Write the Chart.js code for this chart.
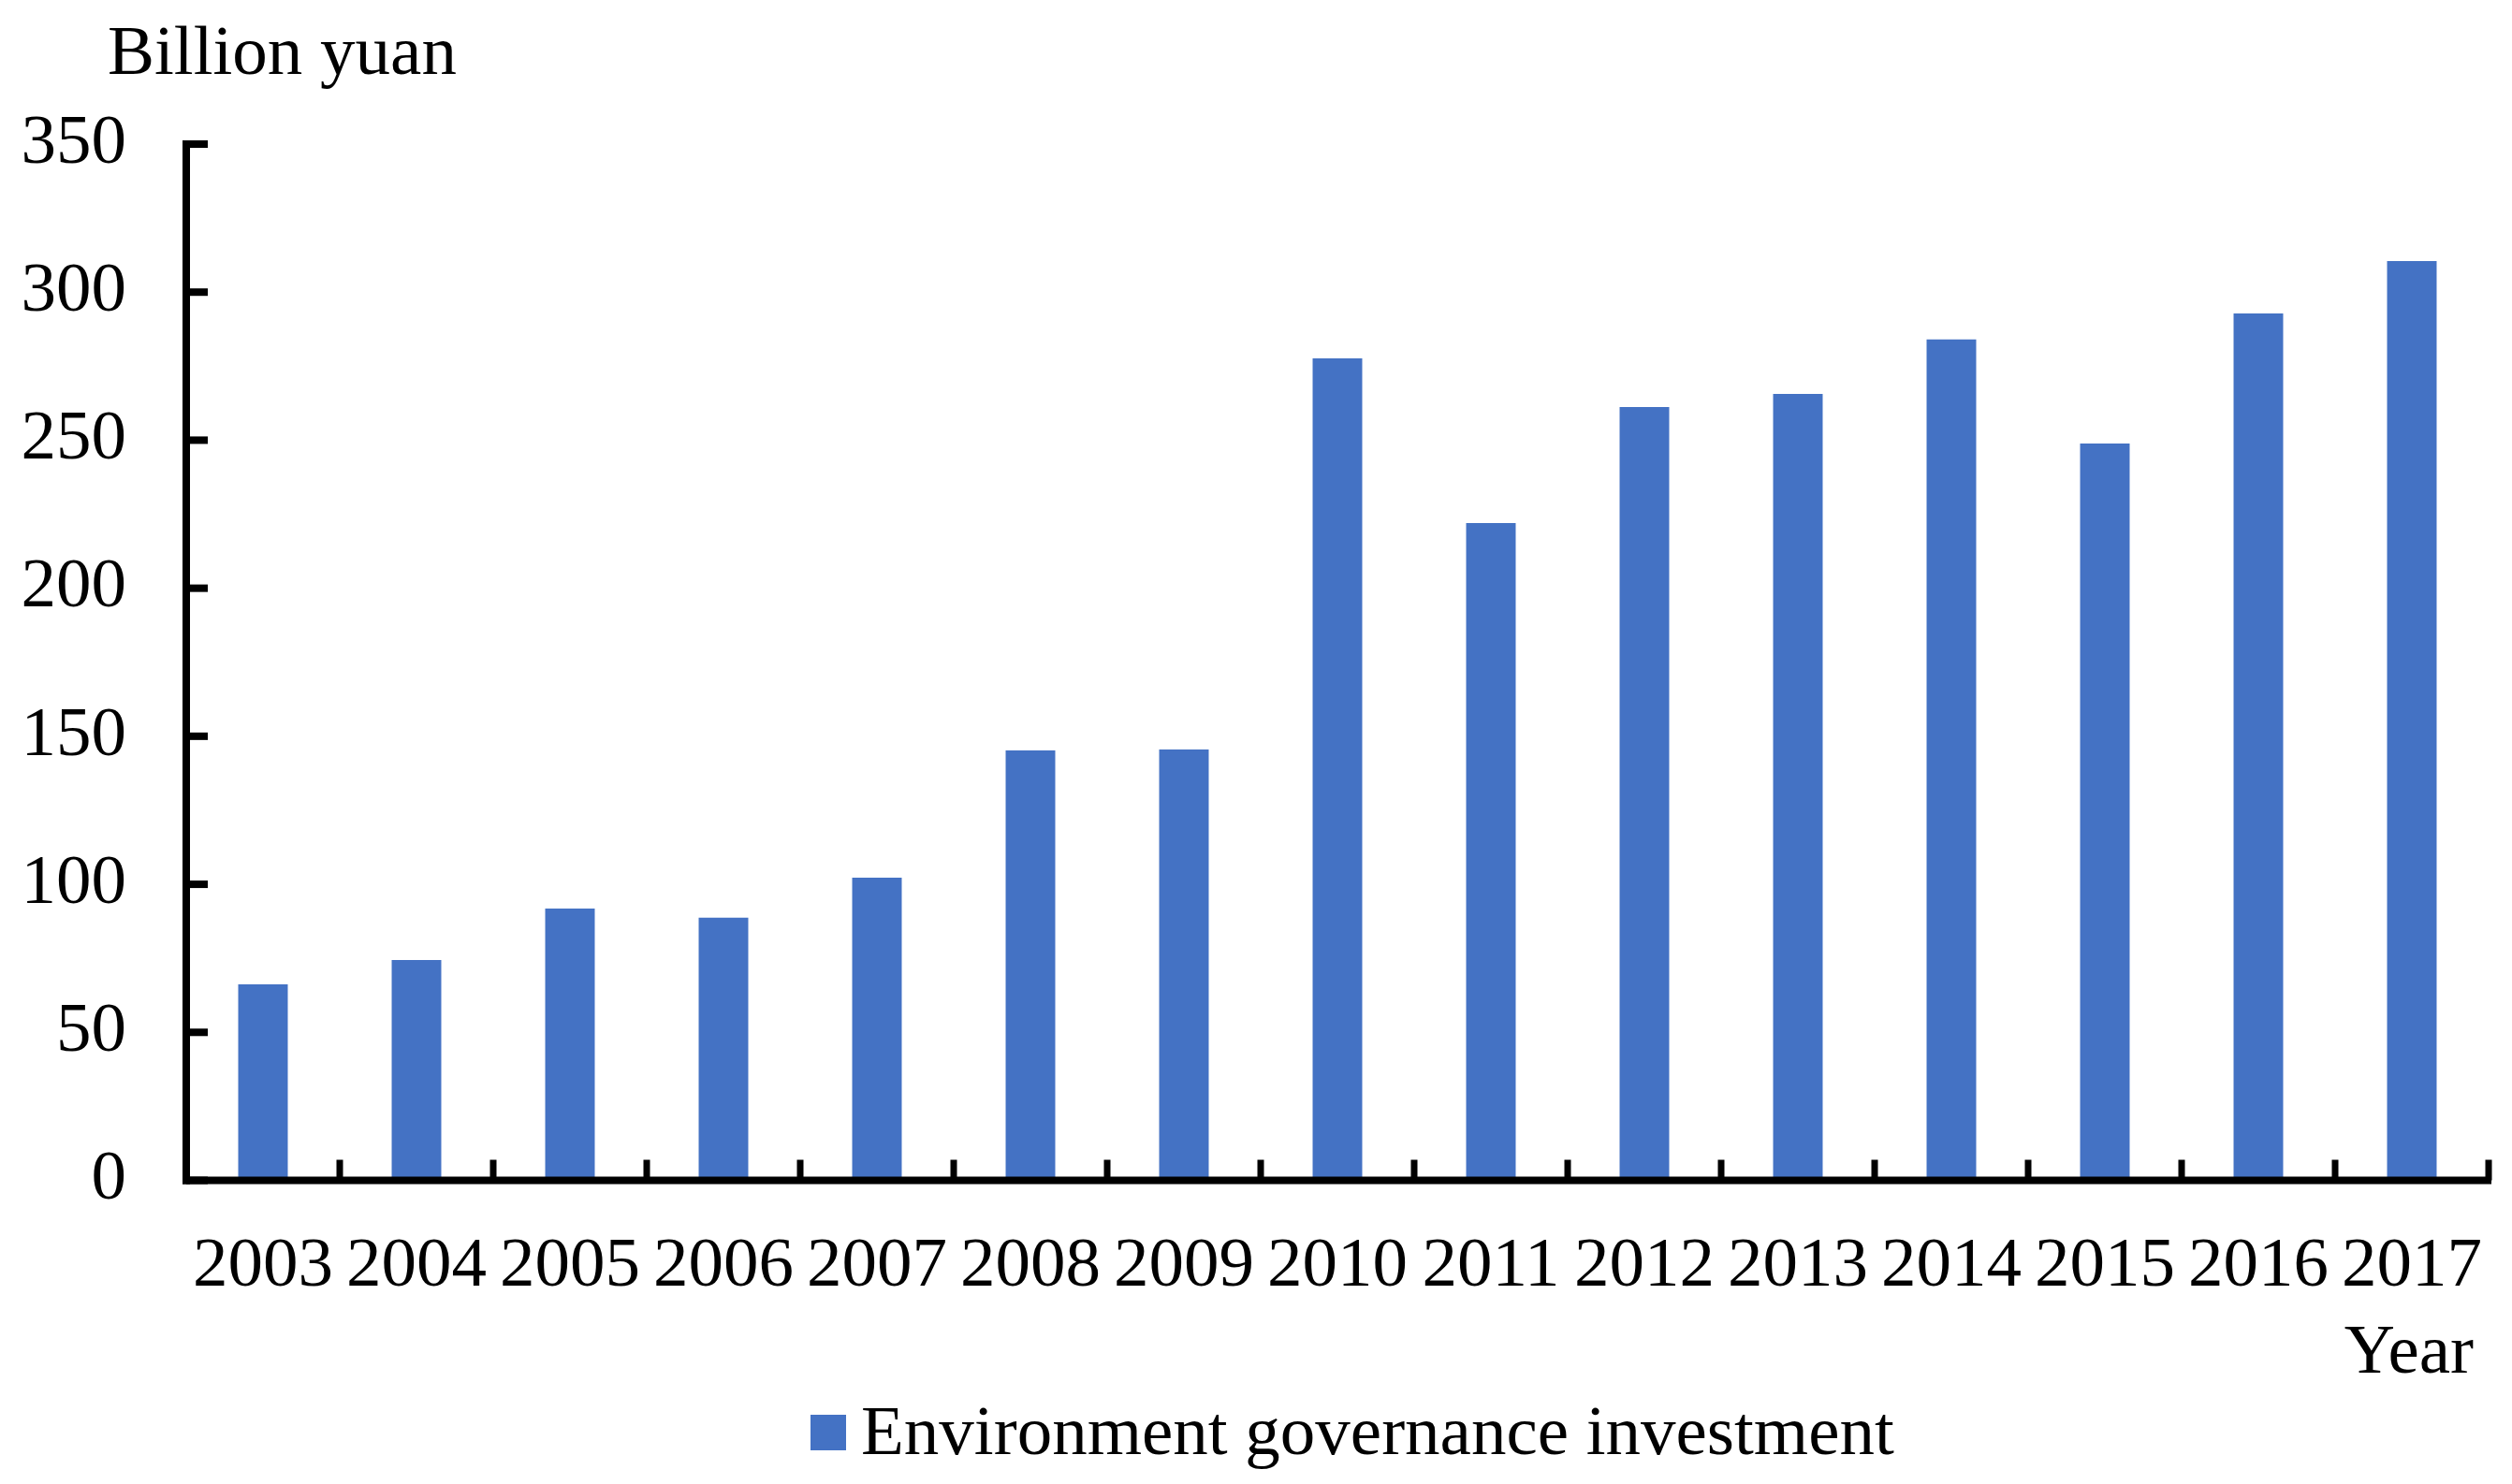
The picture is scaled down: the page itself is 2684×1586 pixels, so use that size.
<!DOCTYPE html>
<html>
<head>
<meta charset="utf-8">
<title>Environment governance investment</title>
<script src="https://cdn.jsdelivr.net/npm/chart.js"></script>
<style>
  html, body { margin: 0; padding: 0; background: #fff; }
  #wrap { position: relative; width: 2684px; height: 1586px; font-family: "Liberation Serif", "Times New Roman", serif; }
  #my-bar-chart { position: absolute; left: 0; top: 0; }
  .label { position: absolute; font-size: 75px; line-height: 75px; color: #000; white-space: nowrap; }
  #legend-box { position: absolute; left: 866px; top: 1512px; width: 38px; height: 38px; background: #4472c4; }
</style>
</head>
<body>
<div id="wrap">
  <canvas id="my-bar-chart" width="2684" height="1586"></canvas>
  <div class="label" style="left:115px; top:16px;">Billion yuan</div>
  <div class="label" style="right:41px; top:1404px;">Year</div>
  <div id="legend-box"></div>
  <div class="label" style="left:920px; top:1491px;">Environment governance investment</div>
</div>
<script>
const years = ["2003", "2004", "2005", "2006", "2007", "2008", "2009", "2010",
  "2011", "2012", "2013", "2014", "2015", "2016", "2017"];
const investment = [66.2, 74.4, 91.8, 88.7, 102.2, 145.2, 145.5, 277.6,
  222.0, 261.2, 265.6, 284.0, 248.9, 292.8, 310.5];
const yMax = 350;
const yStep = 50;

// axis lines and inward tick marks, like the original figure
const axisTicks = {
  id: "axisTicks",
  afterDatasetsDraw(chart) {
    const { ctx, chartArea, scales } = chart;
    const x = scales.x;
    const y = scales.y;
    const y0 = y.getPixelForValue(0);
    ctx.save();
    ctx.fillStyle = "#000";
    ctx.fillRect(chartArea.left - 4, chartArea.top - 4, 8, y0 - chartArea.top + 8);
    ctx.fillRect(chartArea.left - 4, y0 - 4, chartArea.right - chartArea.left + 7, 8);
    y.ticks.forEach((t) => {
      const py = y.getPixelForValue(t.value);
      ctx.fillRect(chartArea.left, py - 4, 23, 8);
    });
    const half = (x.getPixelForValue(1) - x.getPixelForValue(0)) / 2;
    years.forEach((yr, i) => {
      const px = x.getPixelForValue(i) + half;
      ctx.fillRect(px - 3.5, y0 - 22, 7, 22);
    });
    ctx.restore();
  },
};

const ctx = document.querySelector("#my-bar-chart");

const myBarChart = new Chart(ctx, {
  type: "bar",
  data: {
    labels: years,
    datasets: [
      {
        label: "Environment governance investment",
        data: investment,
        backgroundColor: "#4472c4",
        borderWidth: 0,
        categoryPercentage: 1,
        barPercentage: 0.323,
      },
    ],
  },
  options: {
    responsive: false,
    animation: false,
    devicePixelRatio: 1,
    layout: {
      padding: { top: 154, right: 25, bottom: 0, left: 0 },
    },
    plugins: {
      legend: { display: false },
      tooltip: { enabled: false },
    },
    scales: {
      x: {
        grid: { display: false, drawTicks: false },
        border: { display: false },
        ticks: {
          color: "#000",
          padding: 48,
          maxRotation: 0,
          autoSkip: false,
          font: { family: "'Liberation Serif', 'Times New Roman', serif", size: 75 },
        },
        afterFit: (scale) => {
          scale.height = 1586 - 1261.5;
          scale.paddingLeft = 0;
          scale.paddingRight = 0;
        },
      },
      y: {
        min: 0,
        max: yMax,
        grid: { display: false, drawTicks: false },
        border: { display: false },
        ticks: {
          stepSize: yStep,
          color: "#000",
          padding: 64,
          font: { family: "'Liberation Serif', 'Times New Roman', serif", size: 75 },
        },
        afterFit: (scale) => {
          scale.width = 199;
          scale.paddingTop = 0;
          scale.paddingBottom = 0;
        },
      },
    },
  },
  plugins: [axisTicks],
});
</script>
</body>
</html>
